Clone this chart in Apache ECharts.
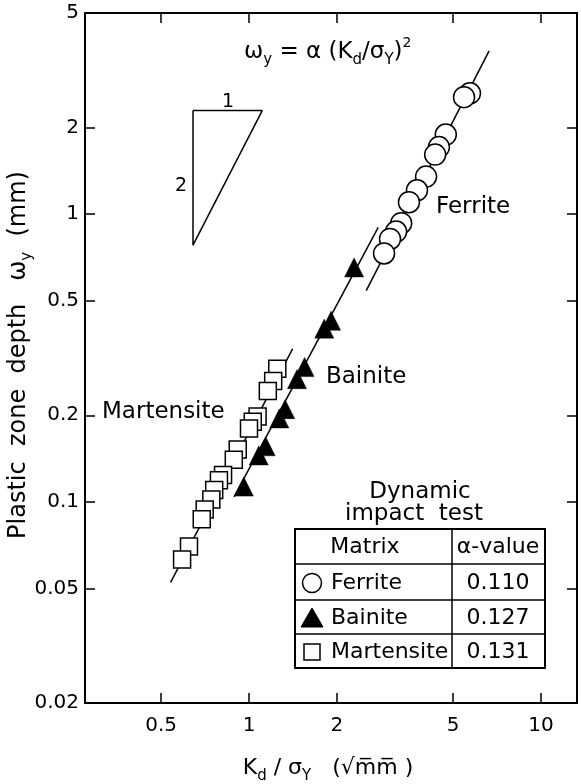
<!DOCTYPE html>
<html><head><meta charset="utf-8">
<script src="https://cdn.jsdelivr.net/npm/echarts@6/dist/echarts.min.js"></script>
<style>html,body{margin:0;padding:0;background:#fff}#c{width:581px;height:784px}</style>
</head><body><div id="c"></div>
<script>
// ---- data ----
const xTicks = [0.5, 1, 2, 5, 10];
const yTicks = [0.02, 0.05, 0.1, 0.2, 0.5, 1, 2, 5];

const ferriteX = [5.71, 5.45, 4.72, 4.47, 4.34, 4.04, 3.76, 3.53, 3.32, 3.19, 3.04, 2.90];
const ferriteY = [2.63, 2.55, 1.89, 1.71, 1.61, 1.35, 1.21, 1.10, 0.93, 0.87, 0.82, 0.73];
const bainiteX = [2.29, 1.91, 1.81, 1.55, 1.46, 1.33, 1.27, 1.14, 1.08, 0.96];
const bainiteY = [0.653, 0.426, 0.40, 0.294, 0.267, 0.21, 0.195, 0.156, 0.145, 0.113];
const martensiteX = [1.25, 1.21, 1.16, 1.07, 1.03, 1.0, 0.915, 0.887, 0.815, 0.789, 0.76, 0.743, 0.705, 0.689, 0.623, 0.59];
const martensiteY = [0.29, 0.263, 0.243, 0.198, 0.19, 0.18, 0.152, 0.14, 0.124, 0.119, 0.110, 0.102, 0.094, 0.087, 0.070, 0.063];

const ferriteLineX = [2.52, 6.64];   const ferriteLineY = [0.542, 3.69];
const bainiteLineX = [0.889, 2.77];  const bainiteLineY = [0.104, 0.90];
const martensiteLineX = [0.539, 1.41]; const martensiteLineY = [0.0525, 0.34];
const slopeTriX = [0.643, 1.11, 0.643, 0.643];
const slopeTriY = [2.29, 2.29, 0.78, 2.29];

const matrices = ['Ferrite', 'Bainite', 'Martensite'];
const alphaValues = ['0.110', '0.127', '0.131'];

// ---- helpers ----
const zip = (xs, ys) => xs.map((x, i) => [x, ys[i]]);
const FONT = 'DejaVu Sans';
const fmt = v => String(+(+v).toPrecision(3));
const C = '#000';

const chart = echarts.init(document.getElementById('c'), null, {renderer: 'canvas'});

const axisCommon = {
  type: 'log', logBase: 10,
  axisLine: {show: true, lineStyle: {color: C, width: 2}},
  splitLine: {show: false},
  minorTick: {show: false}
};

const subRich = {
  sub: {fontSize: 15, fontFamily: FONT, fill: C, lineHeight: 14, verticalAlign: 'bottom'},
  sup: {fontSize: 14, fontFamily: FONT, fill: C, lineHeight: 14, verticalAlign: 'top'}
};

function txt(text, x, y, opts) {
  return Object.assign({
    type: 'text', z: 100,
    style: Object.assign({
      text: text, x: x, y: y, fill: C, fontSize: 23, fontFamily: FONT,
      align: 'left', verticalAlign: 'middle', lineHeight: 32, rich: subRich
    }, opts && opts.style)
  }, opts && opts.el);
}

// table layout
const T = {l: 295, t: 529, r: 545, b: 668, div: 452, rows: [564, 600, 634]};
const rowC = [583, 618, 652];
const TF = 22;

const graphics = [
  txt('ω{sub|y} = α (K{sub|d}/σ{sub|Y}){sup|2}', 244, 52),
  txt('1', 228, 102, {style: {fontSize: 19, align: 'center'}}),
  txt('2', 181, 186, {style: {fontSize: 19, align: 'center'}}),
  txt('Ferrite', 436, 207),
  txt('Bainite', 326, 377),
  txt('Martensite', 102, 412),
  txt('Dynamic', 420, 492, {style: {align: 'center'}}),
  txt('impact  test', 414, 514, {style: {align: 'center'}}),
  // axis titles
  txt('K{sub|d} / σ{sub|Y}   (√m\u0305m\u0305 )', 328, 768, {style: {fontSize: 22, align: 'center'}}),
  {type: 'text', z: 100, x: 19, y: 355, rotation: Math.PI / 2,
    style: {text: 'Plastic  zone  depth   ω{sub|y}  (mm)', x: 0, y: 0, fill: C, fontSize: 24,
      fontFamily: FONT, align: 'center', verticalAlign: 'middle', lineHeight: 32, rich: subRich}},
  // table
  {type: 'rect', z: 90, shape: {x: T.l, y: T.t, width: T.r - T.l, height: T.b - T.t},
    style: {fill: '#fff', stroke: C, lineWidth: 2}},
  {type: 'line', z: 91, shape: {x1: T.div, y1: T.t, x2: T.div, y2: T.b}, style: {stroke: C, lineWidth: 1.5}},
  ...T.rows.map(y => ({type: 'line', z: 91, shape: {x1: T.l, y1: y, x2: T.r, y2: y}, style: {stroke: C, lineWidth: 1.5}})),
  txt('Matrix', 365, 547, {style: {fontSize: TF, align: 'center'}}),
  txt('α-value', 498, 547, {style: {fontSize: TF, align: 'center'}}),
  {type: 'circle', z: 95, shape: {cx: 312, cy: rowC[0], r: 9.5}, style: {fill: '#fff', stroke: C, lineWidth: 1.5}},
  {type: 'polygon', z: 95, shape: {points: [[312, rowC[1] - 10], [323, rowC[1] + 9], [301, rowC[1] + 9]]}, style: {fill: C, stroke: C}},
  {type: 'rect', z: 95, shape: {x: 304, y: rowC[2] - 8, width: 16, height: 16}, style: {fill: '#fff', stroke: C, lineWidth: 1.5}},
  ...matrices.map((m, i) => txt(m, 331, rowC[i], {style: {fontSize: TF}})),
  ...alphaValues.map((a, i) => txt(a, 498, rowC[i], {style: {fontSize: TF, align: 'center'}}))
];

const option = {
  animation: false,
  backgroundColor: '#fff',
  grid: {left: 85, right: 4, top: 13, bottom: 81, containLabel: false},
  xAxis: [
    Object.assign({}, axisCommon, {
      position: 'bottom', min: 0.2744, max: 13.28,
      axisTick: {show: true, inside: true, length: 10, lineStyle: {color: C, width: 1.5}, customValues: xTicks},
      axisLabel: {show: true, customValues: xTicks, formatter: fmt, color: C, fontSize: 20, fontFamily: FONT, margin: 13}
    }),
    Object.assign({}, axisCommon, {
      position: 'top', min: 0.2744, max: 13.28,
      axisTick: {show: true, inside: true, length: 10, lineStyle: {color: C, width: 1.5}, customValues: xTicks},
      axisLabel: {show: false}
    })
  ],
  yAxis: [
    Object.assign({}, axisCommon, {
      position: 'left', min: 0.02, max: 5,
      axisTick: {show: true, inside: true, length: 10, lineStyle: {color: C, width: 1.5}, customValues: yTicks},
      axisLabel: {show: true, customValues: yTicks, formatter: fmt, color: C, fontSize: 20, fontFamily: FONT, margin: 6}
    }),
    Object.assign({}, axisCommon, {
      position: 'right', min: 0.02, max: 5,
      axisTick: {show: true, inside: true, length: 10, lineStyle: {color: C, width: 1.5}, customValues: yTicks},
      axisLabel: {show: false}
    })
  ],
  series: [
    {type: 'line', data: zip(ferriteLineX, ferriteLineY), symbol: 'none', lineStyle: {color: C, width: 1.5}, z: 1},
    {type: 'line', data: zip(bainiteLineX, bainiteLineY), symbol: 'none', lineStyle: {color: C, width: 1.5}, z: 1},
    {type: 'line', data: zip(martensiteLineX, martensiteLineY), symbol: 'none', lineStyle: {color: C, width: 1.5}, z: 1},
    {type: 'line', data: zip(slopeTriX, slopeTriY), symbol: 'none', lineStyle: {color: C, width: 1.5}, z: 1},
    {type: 'scatter', name: 'Ferrite', data: zip(ferriteX, ferriteY), symbol: 'circle', symbolSize: 21,
      itemStyle: {color: '#fff', borderColor: C, borderWidth: 1.5, opacity: 1}, z: 3},
    {type: 'scatter', name: 'Bainite', data: zip(bainiteX, bainiteY), symbol: 'triangle', symbolSize: 19,
      itemStyle: {color: C, borderColor: C, borderWidth: 0.5, opacity: 1}, z: 3},
    {type: 'scatter', name: 'Martensite', data: zip(martensiteX, martensiteY), symbol: 'rect', symbolSize: 17,
      itemStyle: {color: '#fff', borderColor: C, borderWidth: 1.5, opacity: 1}, z: 3}
  ],
  graphic: graphics
};
chart.setOption(option);
</script>
</body></html>
